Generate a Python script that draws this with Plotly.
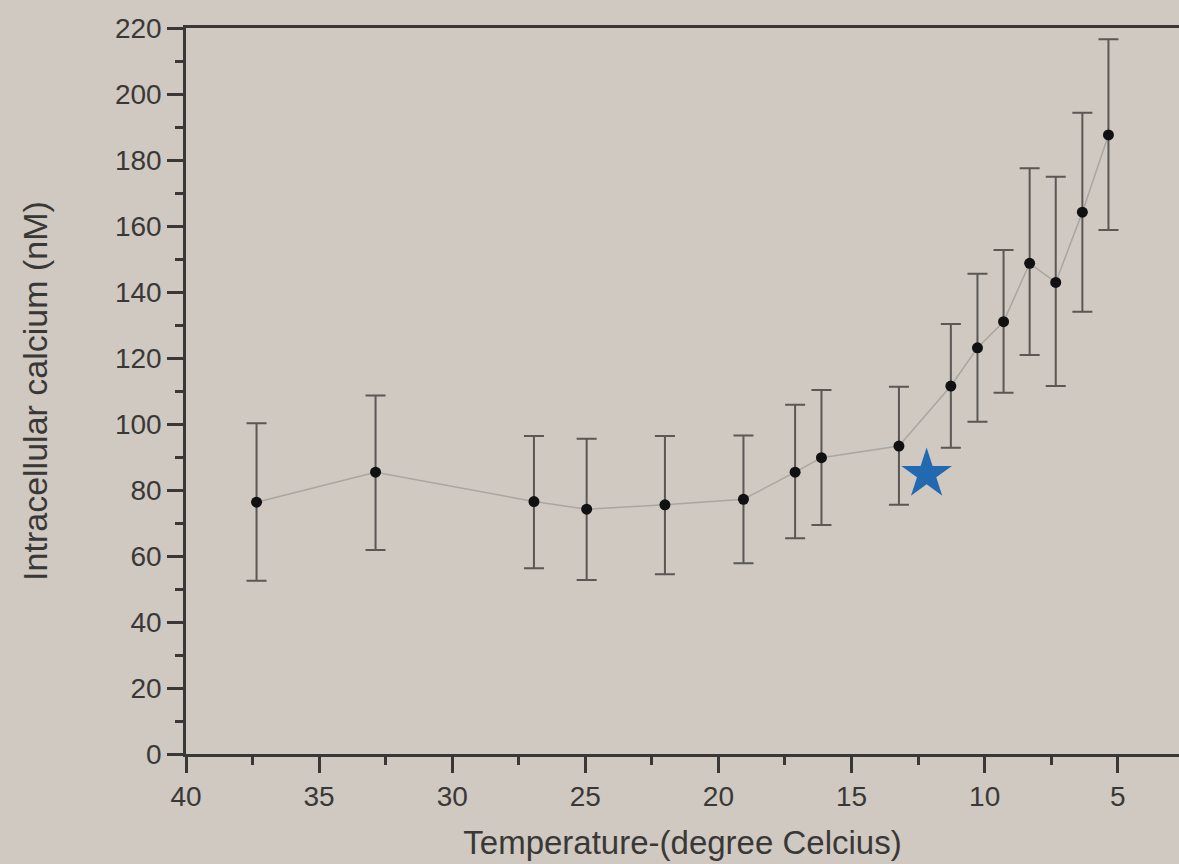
import plotly.graph_objects as go

# Data
temperature = [37.35, 32.88, 26.93, 24.95, 22.01, 19.06, 17.12, 16.13, 13.22,
               11.27, 10.27, 9.29, 8.31, 7.33, 6.33, 5.35]
calcium = [76.3, 85.4, 76.5, 74.2, 75.5, 77.2, 85.4, 89.8, 93.3,
           111.5, 123.1, 131.0, 148.7, 142.9, 164.2, 187.6]
err_upper = [100.2, 108.6, 96.4, 95.5, 96.4, 96.5, 105.8, 110.3, 111.3,
             130.3, 145.5, 152.7, 177.5, 174.9, 194.3, 216.6]
err_lower = [52.5, 61.8, 56.3, 52.7, 54.5, 57.8, 65.4, 69.4, 75.5,
             92.8, 100.7, 109.5, 120.9, 111.5, 134.0, 158.8]
star_x = [12.18]
star_y = [84.8]

x_ticks = [40, 35, 30, 25, 20, 15, 10, 5]
y_ticks = [0, 20, 40, 60, 80, 100, 120, 140, 160, 180, 200, 220]

plus = [u - m for u, m in zip(err_upper, calcium)]
minus = [m - l for m, l in zip(calcium, err_lower)]

bg = "#cfc9c1"
ink = "#3a3836"

fig = go.Figure()
fig.add_trace(go.Scatter(
    x=temperature, y=calcium, mode="lines+markers",
    line=dict(color="#a9a6a1", width=1.5),
    marker=dict(color="#111111", size=11),
    error_y=dict(type="data", symmetric=False, array=plus, arrayminus=minus,
                 color="#5a5754", thickness=2, width=10),
    showlegend=False,
))
fig.add_trace(go.Scatter(
    x=star_x, y=star_y, mode="markers",
    marker=dict(symbol="star", color="#2369b0", size=38, line=dict(width=0)),
    showlegend=False,
))

fig.update_layout(
    width=1179, height=864,
    margin=dict(l=186, r=0, t=28, b=110),
    paper_bgcolor=bg, plot_bgcolor=bg,
    font=dict(family="Liberation Sans, Arial, sans-serif", color=ink, size=28),
)
fig.update_xaxes(
    range=[40, 2.7], tickvals=x_ticks, ticktext=[str(v) for v in x_ticks],
    showgrid=False, zeroline=False, automargin=False,
    showline=True, linecolor=ink, linewidth=2.5, mirror=True,
    ticks="outside", ticklen=16, tickwidth=2.5, tickcolor=ink,
    minor=dict(dtick=2.5, ticks="outside", ticklen=8, tickwidth=2.5, tickcolor=ink),
    title=dict(text="Temperature-(degree Celcius)", font=dict(size=33, color=ink), standoff=20),
    tickfont=dict(size=28, color=ink),
)
fig.update_yaxes(
    range=[0, 220], tickvals=y_ticks, ticktext=[str(v) for v in y_ticks],
    showgrid=False, zeroline=False, automargin=False,
    showline=True, linecolor=ink, linewidth=2.5, mirror=False,
    ticks="outside", ticklen=16, tickwidth=2.5, tickcolor=ink,
    minor=dict(dtick=10, ticks="outside", ticklen=8, tickwidth=2.5, tickcolor=ink),
    title=dict(text="Intracellular calcium (nM)", font=dict(size=34, color=ink), standoff=58),
    tickfont=dict(size=28, color=ink),
)

fig.write_html("out.html", config={"displayModeBar": False},
               post_script="document.body.style.margin='0';")
